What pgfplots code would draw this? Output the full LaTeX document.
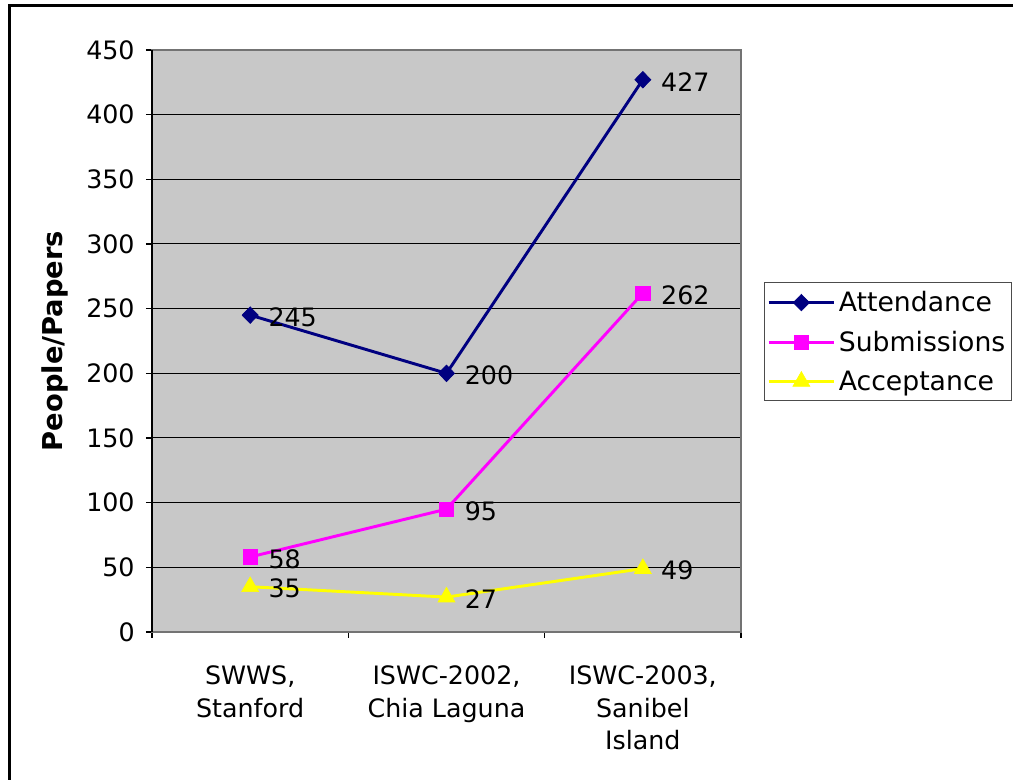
\documentclass[border=0pt]{standalone}
\usepackage{pgfplots}
\pgfplotsset{compat=1.18}
\usepackage{fontspec}
\setmainfont{DejaVu Sans}
\definecolor{plotbg}{RGB}{200,200,200}
\definecolor{att}{RGB}{0,0,128}
\definecolor{sub}{RGB}{255,0,255}
\definecolor{acc}{RGB}{255,255,0}
\newcommand{\chartfont}{\fontsize{19}{24}\selectfont}
\newcommand{\legfont}{\fontsize{20}{24}\selectfont}
\begin{document}
\begin{tikzpicture}
% page = 1013x780 px at 0.75pt per px
\useasboundingbox (0pt,0pt) rectangle (759.75pt,585pt);
\draw[black, line width=2.25pt] (6.9pt,-10pt) rectangle (775pt,580.6pt);
\begin{axis}[
    at={(114pt,111pt)}, anchor=south west,
    scale only axis,
    width=441.75pt, height=436.5pt,
    xmin=-0.5, xmax=2.5,
    ymin=0, ymax=450,
    ytick={0,50,...,450},
    xtick={-0.5,0.5,1.5,2.5},
    xticklabels={},
    extra x ticks={0,1,2},
    extra x tick labels={{SWWS,\\Stanford}, {ISWC-2002,\\Chia Laguna}, {ISWC-2003,\\Sanibel\\Island}},
    extra x tick style={major tick length=0pt, grid=none,
        tick label style={align=center, yshift=-22pt, font=\fontsize{19}{24.2}\selectfont}},
    xtick pos=lower, ytick pos=left,
    tick align=outside,
    major tick length=4.5pt,
    tick style={black, line width=0.8pt},
    ymajorgrids,
    grid style={black, line width=0.75pt},
    axis line style={draw=gray!90!black, line width=0.9pt},
    axis background/.style={fill=plotbg},
    /pgf/number format/assume math mode=true,
    ticklabel style={font=\chartfont},
    yticklabel style={xshift=-5pt},
    ylabel={\textbf{People/Papers}},
    ylabel style={font=\fontsize{20.5}{24}\selectfont, at={(axis description cs:-0.165,0.5)}, anchor=center},
    legend cell align=left,
    legend style={at={(axis description cs:1.039,0.601)}, anchor=north west,
        draw=gray!60!black, line width=0.9pt, fill=white, font=\legfont,
        inner xsep=2pt, inner ysep=4.5pt, row sep=9pt,
        nodes={inner xsep=2.5pt, inner ysep=2pt}},
    legend image code/.code={%
        \draw[mark repeat=2,mark phase=2] plot coordinates {(0pt,0pt) (24.5pt,0pt) (49pt,0pt)};},
    nodes near coords,
    every node near coord/.append style={font=\chartfont, anchor=west, inner sep=0pt, xshift=13.5pt, yshift=-1.5pt, black},
    clip=false,
]
\addplot[att, line width=2.2pt, mark=diamond*, mark size=6.2pt, mark options={fill=att, draw=att, line width=0.5pt, xscale=1.3}]
    coordinates {(0,245) (1,200) (2,427)};
\addlegendentry{Attendance}
\addplot[sub, line width=2.2pt, mark=square*, mark size=5.4pt, mark options={fill=sub, draw=sub, line width=0.5pt}]
    coordinates {(0,58) (1,95) (2,262)};
\addlegendentry{Submissions}
\addplot[acc, line width=2.2pt, mark=triangle*, mark size=7.3pt, mark options={fill=acc, draw=acc, line width=0.5pt}]
    coordinates {(0,35) (1,27) (2,49)};
\addlegendentry{Acceptance}
\draw[black, line width=0.9pt] (rel axis cs:0,0) -- (rel axis cs:0,1);
\end{axis}
\end{tikzpicture}
\end{document}
